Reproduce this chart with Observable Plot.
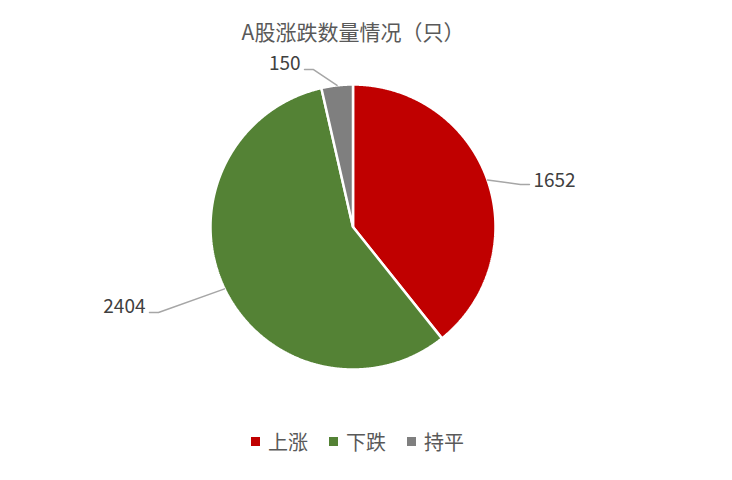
<!DOCTYPE html>
<html>
<head>
<meta charset="utf-8">
<script src="https://cdn.jsdelivr.net/npm/d3@7"></script>
<script src="https://cdn.jsdelivr.net/npm/@observablehq/plot@0.6"></script>
<style>
  body { margin: 0; background: #fff; font-family: "Noto Sans CJK SC", "Noto Sans", sans-serif; }
  #wrap { position: relative; width: 732px; height: 480px; overflow: hidden; }
  #wrap svg { position: absolute; left: 0; top: 0; }
  #title { position: absolute; left: 0; top: 16px; width: 706px; text-align: center; font-size: 21px; line-height: 30px; color: #595959; }
  #legend { position: absolute; left: 251px; top: 426px; height: 30px; display: flex; align-items: center; font-size: 20px; color: #595959; }
  #legend .item { display: flex; align-items: center; margin-right: 21px; }
  #legend .sw { width: 9px; height: 9px; margin-right: 8px; }
  #ticks { position: absolute; left: 0; top: 472px; }
</style>
</head>
<body>
<div id="wrap">
  <div id="chart"></div>
  <div id="title">A股涨跌数量情况（只）</div>
  <div id="legend"></div>
  <div id="ticks"></div>
</div>
<script>
const categories = ["上涨", "下跌", "持平"];
const values = [1652, 2404, 150];
const colors = ["#C00000", "#548235", "#7F7F7F"];

// layout (not data): pie centre/radius in px, label elbow points in radius units
const W = 732, H = 480, CX = 352.5, CY = 226.5, R = 142.5;
const labelElbows = [[1.175, -0.298], [-1.365, 0.600], [-0.277, -1.105]];

const arcs = d3.pie().sort(null).value(d => d)(values);

const slicePts = arcs.map((a, i) => {
  const pts = [{x: 0, y: 0, k: i}];
  const n = Math.max(4, Math.ceil((a.endAngle - a.startAngle) / 0.005));
  for (let j = 0; j <= n; j++) {
    const t = a.startAngle + (a.endAngle - a.startAngle) * j / n;
    pts.push({x: Math.sin(t), y: -Math.cos(t), k: i});
  }
  return pts;
});

const leaders = arcs.flatMap((a, i) => {
  const m = (a.startAngle + a.endAngle) / 2;
  const [ex, ey] = labelElbows[i];
  const dir = ex > 0 ? 1 : -1;
  return [
    {x: Math.sin(m), y: -Math.cos(m), k: i},
    {x: ex, y: ey, k: i},
    {x: ex + dir * 9 / R, y: ey, k: i}
  ];
});

const labels = arcs.map((a, i) => {
  const [ex, ey] = labelElbows[i];
  const dir = ex > 0 ? 1 : -1;
  return {x: ex + dir * 13 / R, y: ey, text: String(values[i]), side: dir > 0 ? "start" : "end"};
});

const marks = [];
slicePts.forEach((pts, i) => {
  marks.push(Plot.line(pts, {x: "x", y: "y", curve: "linear-closed", fill: colors[i], stroke: "#ffffff", strokeWidth: 2.5, strokeLinejoin: "miter"}));
});
marks.push(Plot.line(leaders, {x: "x", y: "y", z: "k", stroke: "#A6A6A6", strokeWidth: 1.5}));
marks.push(Plot.text(labels.filter(d => d.side === "start"), {x: "x", y: "y", text: "text", textAnchor: "start", dy: -4, fill: "#404040", fontSize: 19}));
marks.push(Plot.text(labels.filter(d => d.side === "end"), {x: "x", y: "y", text: "text", textAnchor: "end", dy: -6, fill: "#404040", fontSize: 19}));

const chart = Plot.plot({
  width: W, height: H,
  margin: 0,
  x: {domain: [-CX / R, (W - CX) / R], range: [0, W], axis: null},
  y: {domain: [-CY / R, (H - CY) / R], range: [0, H], axis: null},
  style: {fontFamily: '"Noto Sans CJK SC", "Noto Sans", sans-serif', background: "transparent"},
  marks
});
document.getElementById("chart").appendChild(chart);

const legend = document.getElementById("legend");
categories.forEach((c, i) => {
  const it = document.createElement("div");
  it.className = "item";
  const sw = document.createElement("span");
  sw.className = "sw";
  sw.style.background = colors[i];
  const tx = document.createElement("span");
  tx.textContent = c;
  it.appendChild(sw); it.appendChild(tx);
  legend.appendChild(it);
});

// faint category tick marks along the bottom edge
const tickIdx = d3.range(7);
const ticks = Plot.plot({
  width: W, height: 8, margin: 0,
  x: {domain: [0, 6], range: [21, 699], axis: null},
  marks: [Plot.tickX(tickIdx, {x: d => d, stroke: "#D9D9D9"})]
});
document.getElementById("ticks").appendChild(ticks);
</script>
</body>
</html>
